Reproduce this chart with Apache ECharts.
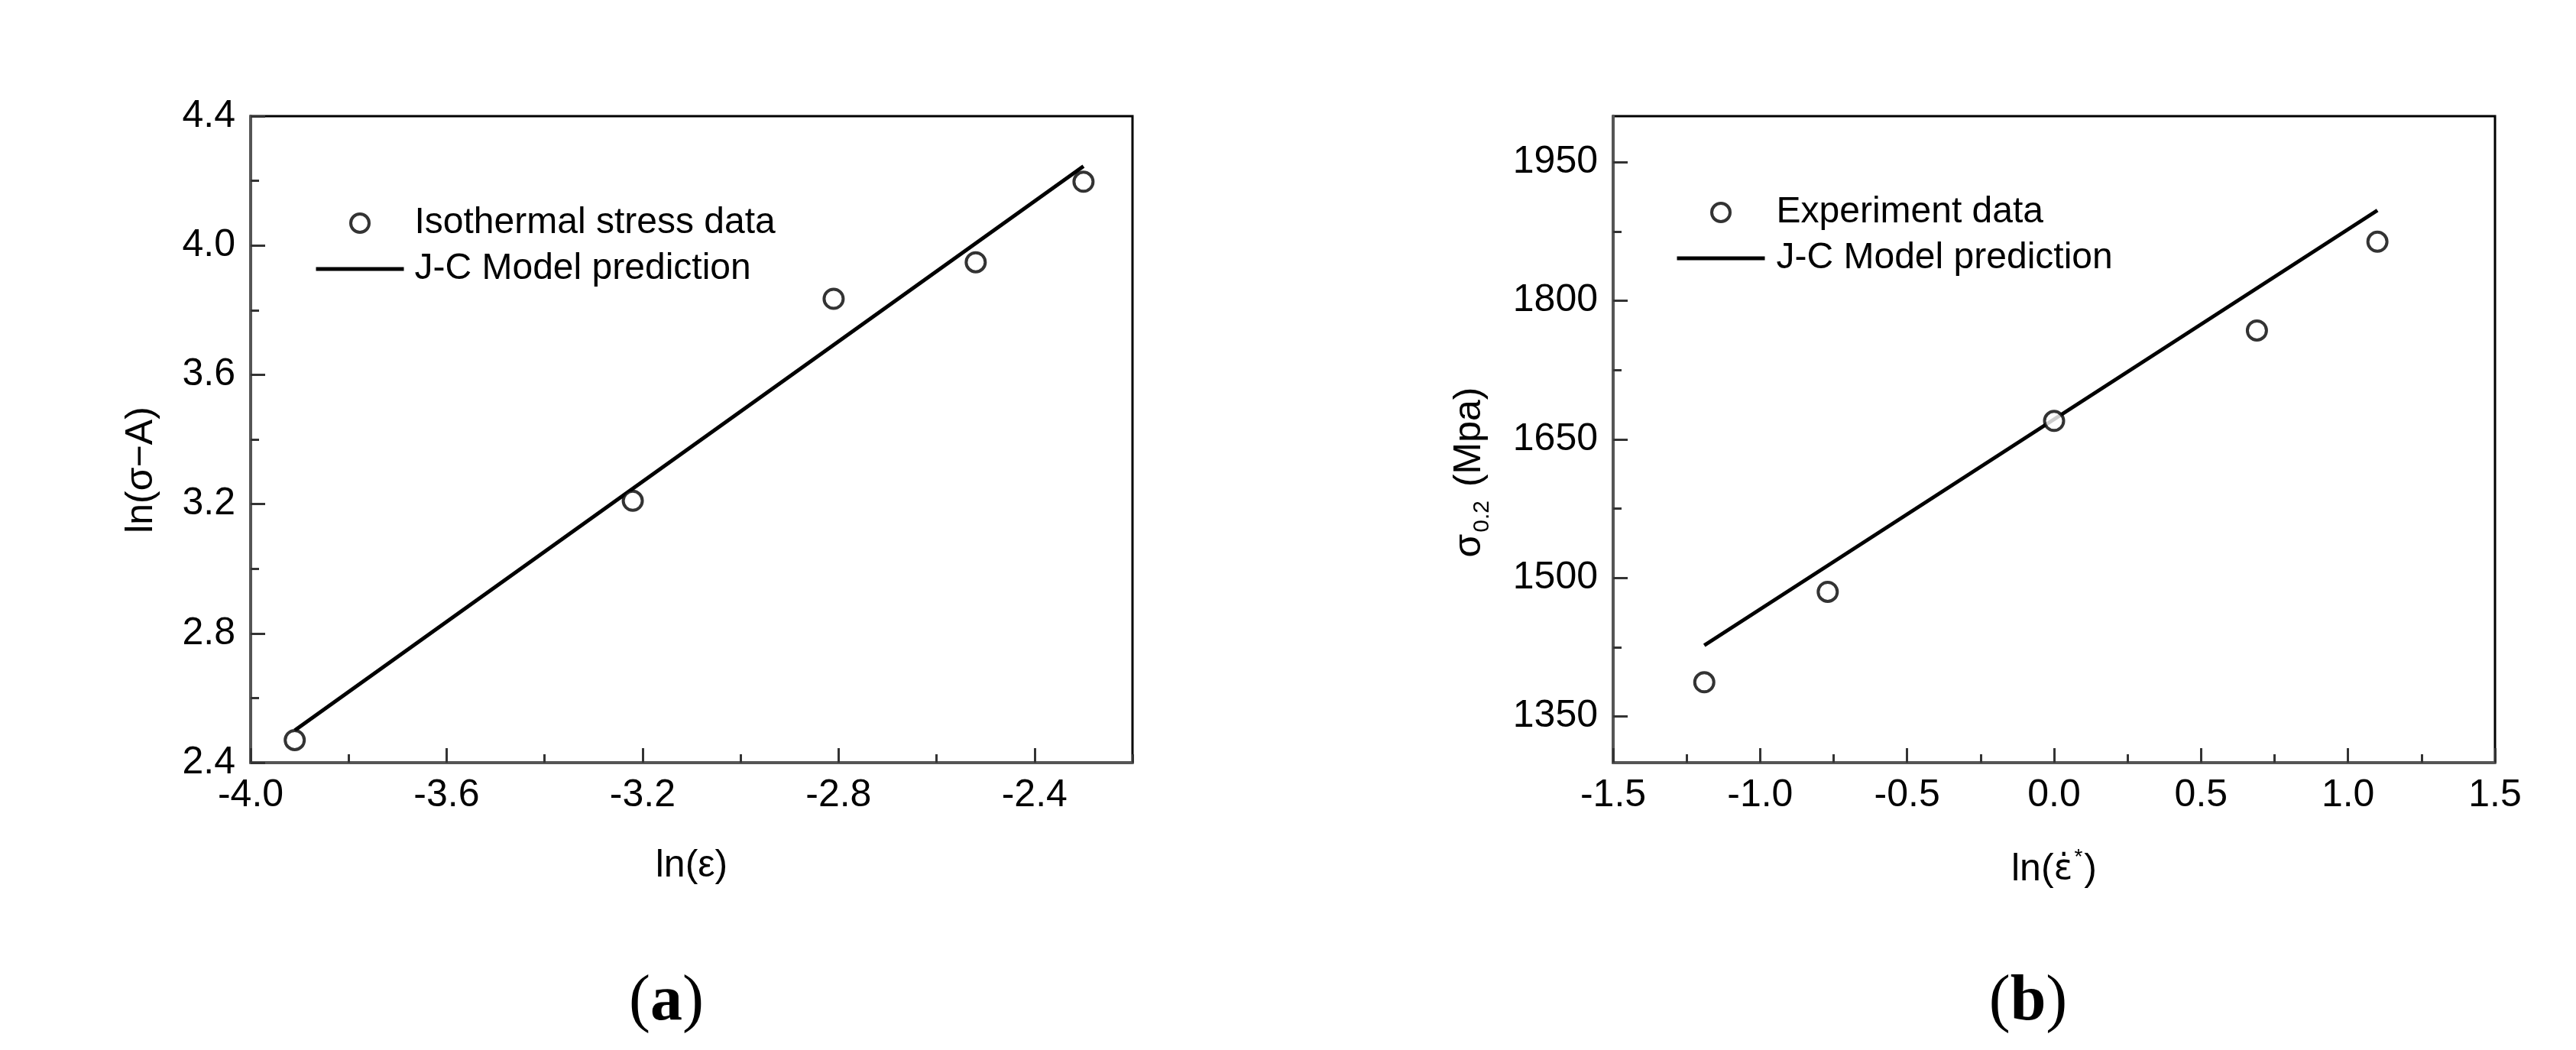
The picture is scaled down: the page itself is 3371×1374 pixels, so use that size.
<!DOCTYPE html>
<html>
<head>
<meta charset="utf-8">
<title>J-C model fit</title>
<script src="https://cdn.jsdelivr.net/npm/echarts@6/dist/echarts.min.js"></script>
<style>
	html,body{margin:0;padding:0;background:#fff;}
	#main{width:3371px;height:1374px;}
</style>
</head>
<body>
<div id="main"></div>
<script>
/********** (a) ln(sigma-A) vs ln(eps) **********/
var isoX = [-3.91, -3.22, -2.81, -2.52, -2.30];
var isoY = [2.47, 3.21, 3.835, 3.948, 4.197];
var fitAX = [-3.91, -2.30];
var fitAY = [2.50, 4.245];
var ticksAX = [-4.0, -3.6, -3.2, -2.8, -2.4];
var minorAX = [-3.8, -3.4, -3.0, -2.6, -2.2];
var ticksAY = [2.4, 2.8, 3.2, 3.6, 4.0, 4.4];
var minorAY = [2.6, 3.0, 3.4, 3.8, 4.2];

/********** (b) sigma0.2 vs ln(strain rate) **********/
var expX = [-1.19, -0.77, 0.0, 0.69, 1.10];
var expY = [1387, 1485, 1670, 1768, 1864];
var fitBX = [-1.19, 1.10];
var fitBY = [1427, 1898];
var ticksBX = [-1.5, -1.0, -0.5, 0.0, 0.5, 1.0, 1.5];
var minorBX = [-1.25, -0.75, -0.25, 0.25, 0.75, 1.25];
var ticksBY = [1350, 1500, 1650, 1800, 1950];
var minorBY = [1425, 1575, 1725, 1875];

var FONT = "'Liberation Sans', Arial, sans-serif";

function pairs(xs, ys){
	var out = [];
	for (var i = 0; i < xs.length; i++) {
		out.push([xs[i], ys[i]]);
	}
	return out;
}

function fix1(v){ return Number(v).toFixed(1); }
function int0(v){ return Math.round(v) + ''; }

// main axis: line, labels, long ticks
function mainAxis(grid, pos, min, max, ticks, fmt, name, nameGap, extra){
	var ax = {
		type: 'value',
		gridIndex: grid,
		position: pos,
		min: min,
		max: max,
		splitLine: {show: false},
		axisLine: {show: true, onZero: false, lineStyle: {color: '#555', width: 4}},
		axisTick: {show: true, inside: true, length: 19, customValues: ticks, lineStyle: {color: '#333', width: 3}},
		axisLabel: {show: true, customValues: ticks, formatter: fmt, color: '#000',
			fontFamily: FONT, fontSize: 50, margin: pos == 'left' ? 20 : 18},
		name: name,
		nameLocation: 'middle',
		nameGap: nameGap,
		nameTextStyle: {color: '#000', fontFamily: FONT, fontSize: 50}
	};
	if (extra) {
		for (var k in extra) { ax.nameTextStyle[k] = extra[k]; }
	}
	return ax;
}

// overlay axis carrying only the short ticks
function minorAxis(grid, pos, min, max, ticks){
	return {
		type: 'value',
		gridIndex: grid,
		position: pos,
		min: min,
		max: max,
		splitLine: {show: false},
		axisLine: {show: false, onZero: false},
		axisLabel: {show: false},
		axisTick: {show: true, inside: true, length: 11, customValues: ticks, lineStyle: {color: '#333', width: 3}}
	};
}

var hollow = {color: '#fff', borderColor: '#000', borderWidth: 4};
var fitLegend = {name: 'J-C Model prediction', itemStyle: {opacity: 0}, lineStyle: {color: '#000', width: 5}};

var option = {
	backgroundColor: '#fff',
	animation: false,
	grid: [
		{left: 328, top: 152, width: 1154, height: 846, show: true, borderColor: '#000', borderWidth: 3, backgroundColor: '#fff'},
		{left: 2111, top: 152, width: 1154, height: 846, show: true, borderColor: '#000', borderWidth: 3, backgroundColor: '#fff'}
	],
	xAxis: [
		mainAxis(0, 'bottom', -4.0, -2.2, ticksAX, fix1, 'ln(ε)', 110),
		minorAxis(0, 'bottom', -4.0, -2.2, minorAX),
		mainAxis(1, 'bottom', -1.5, 1.5, ticksBX, fix1, '{a|ln(}{e|ε\u0307}{sup|*}{a|)}', 110, {
			rich: {
				a: {fontFamily: FONT, fontSize: 50, color: '#000', lineHeight: 60},
				e: {fontFamily: "'DejaVu Sans', sans-serif", fontSize: 46, color: '#000', lineHeight: 60},
				sup: {fontFamily: FONT, fontSize: 28, color: '#000', lineHeight: 60, verticalAlign: 'top', padding: [0, 2, 0, 2]}
			}
		}),
		minorAxis(1, 'bottom', -1.5, 1.5, minorBX)
	],
	yAxis: [
		mainAxis(0, 'left', 2.4, 4.4, ticksAY, fix1, 'ln(σ\u2212A)', 118, {padding: [0, 80, 0, 0]}),
		minorAxis(0, 'left', 2.4, 4.4, minorAY),
		mainAxis(1, 'left', 1300, 2000, ticksBY, int0, '{a|σ}{s|0.2}{a| (Mpa)}', 156, {
			padding: [0, 86, 0, 0],
			rich: {
				a: {fontFamily: FONT, fontSize: 50, color: '#000', lineHeight: 64},
				s: {fontFamily: FONT, fontSize: 30, color: '#000', lineHeight: 24, verticalAlign: 'bottom', padding: [0, 4, 0, 2]}
			}
		}),
		minorAxis(1, 'left', 1300, 2000, minorBY)
	],
	legend: [
		{
			orient: 'vertical', left: 406, top: 259,
			itemWidth: 115, itemHeight: 24, itemGap: 4,
			textStyle: {color: '#000', fontFamily: FONT, fontSize: 48, lineHeight: 56, padding: [0, 0, 0, 9]},
			data: [
				{name: 'Isothermal stress data', icon: 'circle', itemStyle: hollow},
				fitLegend
			]
		},
		{
			orient: 'vertical', left: 2187, top: 245,
			itemWidth: 115, itemHeight: 24, itemGap: 4,
			textStyle: {color: '#000', fontFamily: FONT, fontSize: 48, lineHeight: 56, padding: [0, 0, 0, 10]},
			data: [
				{name: 'Experiment data', icon: 'circle', itemStyle: hollow},
				fitLegend
			]
		}
	],
	series: [
		{
			name: 'J-C Model prediction', type: 'line', xAxisIndex: 0, yAxisIndex: 0,
			data: pairs(fitAX, fitAY), symbol: 'none', showSymbol: false,
			lineStyle: {color: '#000', width: 5}, itemStyle: {color: '#000'}, z: 2
		},
		{
			name: 'Isothermal stress data', type: 'scatter', xAxisIndex: 0, yAxisIndex: 0,
			data: pairs(isoX, isoY), symbol: 'circle', symbolSize: 25,
			itemStyle: hollow, z: 3
		},
		{
			name: 'J-C Model prediction', type: 'line', xAxisIndex: 2, yAxisIndex: 2,
			data: pairs(fitBX, fitBY), symbol: 'none', showSymbol: false,
			lineStyle: {color: '#000', width: 5}, itemStyle: {color: '#000'}, z: 2
		},
		{
			name: 'Experiment data', type: 'scatter', xAxisIndex: 2, yAxisIndex: 2,
			data: pairs(expX, expY), symbol: 'circle', symbolSize: 25,
			itemStyle: hollow, z: 3
		}
	],
	graphic: [
		{
			type: 'text', x: 872, y: 1312,
			style: {
				text: '{p|(}{b|a}{p|)}', align: 'center', verticalAlign: 'middle',
				rich: {
					p: {fontFamily: "'Liberation Serif', serif", fontSize: 84, color: '#000'},
					b: {fontFamily: "'Liberation Serif', serif", fontSize: 84, fontWeight: 'bold', color: '#000'}
				}
			}
		},
		{
			type: 'text', x: 2654, y: 1312,
			style: {
				text: '{p|(}{b|b}{p|)}', align: 'center', verticalAlign: 'middle',
				rich: {
					p: {fontFamily: "'Liberation Serif', serif", fontSize: 84, color: '#000'},
					b: {fontFamily: "'Liberation Serif', serif", fontSize: 84, fontWeight: 'bold', color: '#000'}
				}
			}
		}
	]
};

var chart = echarts.init(document.getElementById('main'), null, {renderer: 'canvas'});
chart.setOption(option);
</script>
</body>
</html>
